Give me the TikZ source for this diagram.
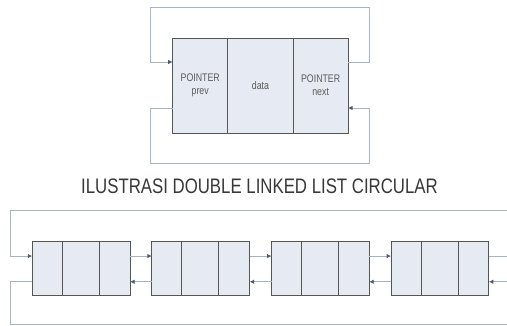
\documentclass[tikz,border=0pt]{standalone}
\usepackage{fontspec}
\newfontfamily\narrowsf[FakeStretch=0.8]{Liberation Sans}
\usetikzlibrary{positioning,arrows.meta,calc}
\definecolor{cellfill}{HTML}{E6EAF2}
\definecolor{cellline}{HTML}{555555}
\definecolor{linkgray}{HTML}{A9B3C2}
\definecolor{tipcol}{HTML}{4C5B72}
\definecolor{txtgray}{HTML}{5A5A5A}
\definecolor{titlegray}{HTML}{383838}

\begin{document}
\begin{tikzpicture}[x=1pt, y=-1pt,
  cell/.style={draw=cellline, fill=cellfill, line width=0.9pt, inner sep=0pt,
               outer sep=0pt, anchor=north west, align=center, text=txtgray,
               font=\narrowsf\fontsize{11}{13}\selectfont},
  link/.style={draw=linkgray, line width=0.9pt},
  arr/.style={link, -{Latex[length=4.5pt, width=4.5pt, color=tipcol]}}
]
\useasboundingbox (0,0) rectangle (507,326);

% single node with its two pointers
\node[cell, minimum width=55pt, minimum height=95pt] (prev) at (172.7,38) {POINTER\\prev};
\node[cell, minimum width=65.6pt, minimum height=95pt, right=0pt of prev] (data) {data};
\node[cell, minimum width=54.7pt, minimum height=95pt, right=0pt of data] (next) {POINTER\\next};
\coordinate (tl) at (150.7,7);
\coordinate (tr) at (369,7);
\coordinate (bl) at (150.7,163);
\coordinate (br) at (369,163);
\draw[arr] ([yshift=23.5pt]next.east) -| (tr) -- (tl) |- ([yshift=23.5pt]prev.west);
\draw[arr] ([yshift=-22.5pt]prev.west) -| (bl) -- (br) |- ([yshift=-22.5pt]next.east);

\node[text=titlegray, font=\narrowsf\fontsize{21}{24}\selectfont] (title) at (259.5,186)
  {ILUSTRASI DOUBLE LINKED LIST CIRCULAR};

% the circular list
\foreach \i in {1,...,4} {
  \node[cell, minimum width=30pt, minimum height=54.7pt] (L\i) at ({32.3+(\i-1)*119.6},241) {};
  \node[cell, minimum width=37pt, minimum height=54.7pt, right=0pt of L\i] (M\i) {};
  \node[cell, minimum width=30.7pt, minimum height=54.7pt, right=0pt of M\i] (R\i) {};
}
\foreach \i/\j in {1/2,2/3,3/4} {
  \draw[arr] ([yshift=12.3pt]R\i.east) -- ([yshift=12.3pt]L\j.west);
  \draw[arr] ([yshift=-13.4pt]L\j.west) -- ([yshift=-13.4pt]R\i.east);
}
\coordinate (ftl) at (10,210.7);
\coordinate (ftr) at (512,210.7);
\coordinate (fbl) at (10,324.5);
\coordinate (fbr) at (512,324.5);
\draw[arr] ([yshift=12.3pt]R4.east) -| (ftr) -- (ftl) |- ([yshift=12.3pt]L1.west);
\draw[arr] ([yshift=-13.4pt]L1.west) -| (fbl) -- (fbr) |- ([yshift=-13.4pt]R4.east);
\end{tikzpicture}
\end{document}
